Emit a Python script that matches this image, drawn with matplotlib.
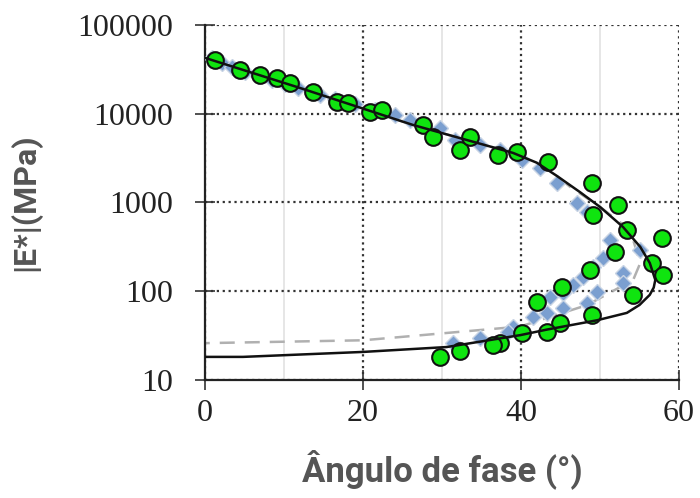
import matplotlib.pyplot as plt
from matplotlib.ticker import FixedLocator, NullFormatter

# Dados (ângulo de fase em graus, |E*| em MPa)
green_phase = [1.3, 4.4, 7.0, 9.1, 10.8, 13.7, 16.7, 18.1, 20.9, 22.4,
               27.6, 28.9, 32.3, 33.5, 37.1, 39.5, 43.4, 49.0, 52.3, 49.1,
               53.4, 57.8, 51.9, 56.6, 58.0, 48.7, 45.2, 54.2, 42.0, 49.0,
               44.9, 43.3, 40.1, 37.3, 36.5, 32.3, 29.7]
green_modulus = [40400, 31100, 27300, 25300, 22200, 17600, 13600, 13200, 10500, 11000,
                 7470, 5470, 3910, 5470, 3430, 3710, 2860, 1660, 938, 723,
                 490, 398, 277, 208, 152, 173, 112, 91, 76, 54,
                 44, 35, 34, 26, 25, 21, 18]

diamond_phase = [0.9, 2.2, 3.4, 5.1, 6.7, 8.5, 10.1, 11.8, 14.6, 16.5,
                 19.0, 21.5, 24.1, 25.9, 29.7, 31.6, 34.8, 37.3, 40.1, 42.4,
                 44.6, 47.1, 48.4, 51.3,
                 50.4, 49.1, 47.8, 46.6, 45.3, 43.7,
                 55.1, 52.9, 52.9, 49.6, 48.4, 45.3, 43.3, 41.5, 39.0, 38.4,
                 34.8, 31.4]
diamond_modulus = [42500, 37300, 33600, 29500, 26600, 24000, 21600, 19500, 16300, 14700,
                   12900, 11000, 9680, 8510, 6910, 5060, 4450, 3910, 3010, 2450,
                   1660, 986, 781, 378,
                   237, 188, 145, 118, 95, 86,
                   292, 161, 124, 98, 74, 65, 57, 51, 40, 35,
                   30, 26]

model_phase = [0.0, 12.0, 26.3, 39.0, 42.0, 44.5, 47.5, 50.0, 52.9, 55.1, 56.3,
               57.0, 56.8, 56.3, 55.0, 53.4, 49.6, 43.3, 39.9, 30.6, 20.0, 4.8, 0.0]
model_modulus = [42500, 19500, 7470, 3610, 2800, 2000, 1300, 890, 530, 315, 208,
                 134, 110, 91, 70, 57, 47, 37, 32, 23.5, 20.7, 18.2, 18.2]

dashed_phase = [0.0, 12.0, 26.3, 39.0, 43.3, 46.2, 50.0, 53.8, 55.1, 54.2,
                48.4, 39.9, 20.0, 0.0]
dashed_modulus = [42500, 19500, 7470, 3610, 2450, 1500, 890, 490, 208, 134,
                  70, 40, 28, 26]

fig, ax = plt.subplots(figsize=(7, 4.98), dpi=100)
fig.subplots_adjust(left=0.293, right=0.970, top=0.950, bottom=0.237)

ax.set_yscale('log')
ax.set_xlim(0, 60)
ax.set_ylim(10, 100000)

ax.plot(dashed_phase, dashed_modulus, color='#b0b0b0', lw=1.8,
        linestyle=(0, (6, 4)), zorder=2)
ax.plot(diamond_phase, diamond_modulus, linestyle='none', marker='D',
        markersize=8, markerfacecolor='#7b9fd0', markeredgecolor='#c8d4e4',
        markeredgewidth=1.0, zorder=3)
ax.plot(green_phase, green_modulus, linestyle='none', marker='o',
        markersize=12, markerfacecolor='#0fe40f', markeredgecolor='#111111',
        markeredgewidth=1.5, zorder=4)
ax.plot(model_phase, model_modulus, color='#111111', lw=1.8, zorder=5)

# grade
ax.xaxis.set_major_locator(FixedLocator([0, 20, 40, 60]))
ax.xaxis.set_minor_locator(FixedLocator([10, 30, 50]))
ax.yaxis.set_major_locator(FixedLocator([10, 100, 1000, 10000, 100000]))
ax.yaxis.set_minor_locator(FixedLocator([]))
ax.yaxis.set_minor_formatter(NullFormatter())
ax.set_yticklabels(['10', '100', '1000', '10000', '100000'])
ax.grid(True, which='major', color='#333333', linestyle=':', lw=1.6)
ax.grid(True, which='minor', axis='x', color='#e2e2e2', linestyle='-', lw=1.2)
ax.set_axisbelow(True)

for side in ['top', 'right']:
    ax.spines[side].set_visible(False)
for side in ['left', 'bottom']:
    ax.spines[side].set_color('#222222')
    ax.spines[side].set_linewidth(1.6)

ax.tick_params(axis='both', which='major', direction='inout', length=14,
               width=1.2, color='#333333', labelsize=23, labelcolor='#222222')
ax.tick_params(axis='x', which='minor', length=0)
ax.tick_params(axis='x', which='major', pad=7)
ax.tick_params(axis='y', which='major', pad=16)
for lab in ax.get_xticklabels() + ax.get_yticklabels():
    lab.set_fontfamily('Liberation Serif')

ax.set_xlabel('Ângulo de fase (°)', fontsize=25, fontweight='bold',
              color='#555555', family='Roboto', labelpad=15)
ax.set_ylabel('|E*|(MPa)', fontsize=23, fontweight='bold',
              color='#555555', family='Roboto', labelpad=26)

fig.savefig('out.png', dpi=100, facecolor='white')
